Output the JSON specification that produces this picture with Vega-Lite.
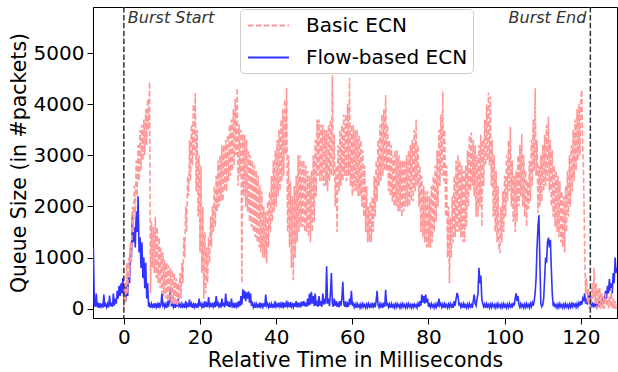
{
  "$schema": "https://vega.github.io/schema/vega-lite/v6.json",
  "width": 524,
  "height": 311,
  "autosize": {"type": "none"},
  "padding": {"left": 93, "top": 7, "right": 1, "bottom": 54},
  "background": "white",
  "config": {
    "view": {"stroke": "black", "strokeWidth": 1},
    "font": "DejaVu Sans",
    "axis": {
      "labelFont": "DejaVu Sans", "titleFont": "DejaVu Sans",
      "labelFontSize": 20, "titleFontSize": 20.5, "titleFontWeight": "normal",
      "labelColor": "black", "titleColor": "black", "tickColor": "black", "domainColor": "black",
      "tickSize": 6, "grid": false, "labelPadding": 3, "domainWidth": 1, "tickWidth": 1
    },
    "legend": {
      "orient": "none", "legendX": 147, "legendY": 2, "title": null,
      "labelFont": "DejaVu Sans", "labelFontSize": 20, "labelColor": "black", "labelLimit": 400,
      "symbolType": "M-2,0L2,0", "symbolSize": 420, "symbolStrokeWidth": 2, "symbolOffset": 12,
      "labelOffset": 26, "padding": 5, "strokeColor": "#cccccc", "fillColor": "rgba(255,255,255,0.8)",
      "cornerRadius": 4, "rowPadding": 10
    }
  },
  "layer": [
    {
      "data": {"values": [
{"t":-8,"f":1200},{"t":-7.75,"f":100},{"t":-7.5,"f":40},{"t":-7.25,"f":300},{"t":-7,"f":30},{"t":-6.75,"f":90},{"t":-6.5,"f":20},{"t":-6.25,"f":110},{"t":-6,"f":40},{"t":-5.75,"f":80},{"t":-5.5,"f":20},{"t":-5.25,"f":280},{"t":-5,"f":40},{"t":-4.75,"f":90},{"t":-4.5,"f":30},{"t":-4.25,"f":100},{"t":-4,"f":30},{"t":-3.75,"f":260},{"t":-3.5,"f":50},{"t":-3.25,"f":120},{"t":-3,"f":40},{"t":-2.75,"f":300},{"t":-2.5,"f":60},{"t":-2.25,"f":200},{"t":-2,"f":100},{"t":-1.75,"f":350},{"t":-1.5,"f":200},{"t":-1.25,"f":450},{"t":-1,"f":250},{"t":-0.75,"f":500},{"t":-0.5,"f":300},{"t":-0.25,"f":600},
{"t":0,"b":0,"f":200},{"t":0.25,"b":500,"f":450},{"t":0.5,"b":100,"f":150},{"t":0.75,"b":900,"f":550},{"t":1,"b":300,"f":250},{"t":1.25,"b":1000,"f":700},{"t":1.5,"b":600,"f":500},{"t":1.75,"b":1300,"f":1200},{"t":2,"b":900,"f":1000},{"t":2.25,"b":2000,"f":1850},{"t":2.5,"b":1500,"f":1300},{"t":2.75,"b":2400,"f":1600},{"t":3,"b":1800,"f":1200},{"t":3.25,"b":2900,"f":1900},{"t":3.5,"b":2200,"f":1500},{"t":3.75,"b":3200,"f":2200},{"t":4,"b":2500,"f":1100},{"t":4.25,"b":3500,"f":1400},{"t":4.5,"b":2700,"f":800},{"t":4.75,"b":3600,"f":1300},{"t":5,"b":2900,"f":600},{"t":5.25,"b":3700,"f":1000},{"t":5.5,"b":3000,"f":400},{"t":5.75,"b":3900,"f":900},{"t":6,"b":3200,"f":200},{"t":6.25,"b":4100,"f":500},{"t":6.5,"b":3500,"f":40},{"t":6.75,"b":4440,"f":90},{"t":7,"b":300,"f":20},{"t":7.25,"b":1700,"f":100},{"t":7.5,"b":800,"f":40},{"t":7.75,"b":1600,"f":80},{"t":8,"b":700,"f":20},{"t":8.25,"b":1800,"f":110},{"t":8.5,"b":600,"f":30},{"t":8.75,"b":1600,"f":90},{"t":9,"b":500,"f":20},{"t":9.25,"b":1400,"f":120},{"t":9.5,"b":400,"f":40},{"t":9.75,"b":1200,"f":80},
{"t":10,"b":300,"f":300},{"t":10.25,"b":1100,"f":60},{"t":10.5,"b":250,"f":100},{"t":10.75,"b":950,"f":30},{"t":11,"b":200,"f":90},{"t":11.25,"b":900,"f":20},{"t":11.5,"b":150,"f":150},{"t":11.75,"b":850,"f":40},{"t":12,"b":150,"f":200},{"t":12.25,"b":800,"f":410},{"t":12.5,"b":100,"f":50},{"t":12.75,"b":750,"f":100},{"t":13,"b":100,"f":30},{"t":13.25,"b":700,"f":80},{"t":13.5,"b":80,"f":20},{"t":13.75,"b":600,"f":120},{"t":14,"b":50,"f":40},{"t":14.25,"b":500,"f":200},{"t":14.5,"b":100,"f":50},{"t":14.75,"b":700,"f":90},{"t":15,"b":200,"f":20},{"t":15.25,"b":900,"f":100},{"t":15.5,"b":500,"f":40},{"t":15.75,"b":1400,"f":80},{"t":16,"b":1000,"f":20},{"t":16.25,"b":2000,"f":150},{"t":16.5,"b":1500,"f":40},{"t":16.75,"b":2600,"f":90},{"t":17,"b":2200,"f":30},{"t":17.25,"b":3300,"f":180},{"t":17.5,"b":2500,"f":40},{"t":17.75,"b":3600,"f":100},{"t":18,"b":2800,"f":20},{"t":18.25,"b":4000,"f":90},{"t":18.5,"b":3000,"f":30},{"t":18.75,"b":4220,"f":110},{"t":19,"b":2300,"f":40},{"t":19.25,"b":3500,"f":80},{"t":19.5,"b":1800,"f":20},{"t":19.75,"b":3000,"f":200},
{"t":20,"b":1100,"f":50},{"t":20.25,"b":2800,"f":100},{"t":20.5,"b":700,"f":30},{"t":20.75,"b":2000,"f":90},{"t":21,"b":200,"f":20},{"t":21.25,"b":1500,"f":150},{"t":21.5,"b":300,"f":40},{"t":21.75,"b":1200,"f":100},{"t":22,"b":500,"f":30},{"t":22.25,"b":1400,"f":230},{"t":22.5,"b":900,"f":50},{"t":22.75,"b":1800,"f":90},{"t":23,"b":1200,"f":30},{"t":23.25,"b":2000,"f":120},{"t":23.5,"b":1500,"f":40},{"t":23.75,"b":2400,"f":100},{"t":24,"b":1600,"f":30},{"t":24.25,"b":2600,"f":250},{"t":24.5,"b":1900,"f":50},{"t":24.75,"b":2900,"f":110},{"t":25,"b":2000,"f":40},{"t":25.25,"b":3000,"f":90},{"t":25.5,"b":2100,"f":20},{"t":25.75,"b":3200,"f":200},{"t":26,"b":2100,"f":50},{"t":26.25,"b":3200,"f":120},{"t":26.5,"b":2300,"f":30},{"t":26.75,"b":3300,"f":300},{"t":27,"b":2300,"f":60},{"t":27.25,"b":3400,"f":150},{"t":27.5,"b":2500,"f":40},{"t":27.75,"b":3600,"f":100},{"t":28,"b":2600,"f":30},{"t":28.25,"b":3700,"f":200},{"t":28.5,"b":2700,"f":50},{"t":28.75,"b":3900,"f":90},{"t":29,"b":2800,"f":20},{"t":29.25,"b":4100,"f":120},{"t":29.5,"b":3000,"f":40},{"t":29.75,"b":4320,"f":100},
{"t":30,"b":2400,"f":30},{"t":30.25,"b":3600,"f":150},{"t":30.5,"b":2600,"f":50},{"t":30.75,"b":3500,"f":250},{"t":31,"b":500,"f":80},{"t":31.25,"b":3430,"f":380},{"t":31.5,"b":2200,"f":200},{"t":31.75,"b":3400,"f":350},{"t":32,"b":2000,"f":150},{"t":32.25,"b":3300,"f":320},{"t":32.5,"b":1900,"f":200},{"t":32.75,"b":3100,"f":340},{"t":33,"b":1700,"f":120},{"t":33.25,"b":3000,"f":300},{"t":33.5,"b":1600,"f":60},{"t":33.75,"b":2900,"f":110},{"t":34,"b":1500,"f":30},{"t":34.25,"b":2800,"f":90},{"t":34.5,"b":1400,"f":20},{"t":34.75,"b":2700,"f":100},{"t":35,"b":1300,"f":40},{"t":35.25,"b":2600,"f":80},{"t":35.5,"b":1200,"f":20},{"t":35.75,"b":2400,"f":120},{"t":36,"b":1100,"f":40},{"t":36.25,"b":2300,"f":90},{"t":36.5,"b":1000,"f":30},{"t":36.75,"b":2000,"f":110},{"t":37,"b":1000,"f":40},{"t":37.25,"b":1900,"f":280},{"t":37.5,"b":890,"f":60},{"t":37.75,"b":2100,"f":100},{"t":38,"b":1200,"f":30},{"t":38.25,"b":2300,"f":90},{"t":38.5,"b":1500,"f":20},{"t":38.75,"b":2600,"f":100},{"t":39,"b":1700,"f":40},{"t":39.25,"b":2900,"f":80},{"t":39.5,"b":1900,"f":20},{"t":39.75,"b":3100,"f":150},
{"t":40,"b":2000,"f":40},{"t":40.25,"b":3300,"f":90},{"t":40.5,"b":2200,"f":30},{"t":40.75,"b":3500,"f":120},{"t":41,"b":2300,"f":40},{"t":41.25,"b":3700,"f":100},{"t":41.5,"b":2500,"f":20},{"t":41.75,"b":3900,"f":130},{"t":42,"b":2600,"f":40},{"t":42.25,"b":4100,"f":90},{"t":42.5,"b":3000,"f":30},{"t":42.75,"b":4320,"f":160},{"t":43,"b":1500,"f":50},{"t":43.25,"b":3000,"f":100},{"t":43.5,"b":1200,"f":30},{"t":43.75,"b":2500,"f":130},{"t":44,"b":800,"f":40},{"t":44.25,"b":2200,"f":90},{"t":44.5,"b":560,"f":30},{"t":44.75,"b":2400,"f":110},{"t":45,"b":1000,"f":40},{"t":45.25,"b":2600,"f":150},{"t":45.5,"b":1300,"f":30},{"t":45.75,"b":3000,"f":120},{"t":46,"b":1500,"f":50},{"t":46.25,"b":3000,"f":100},{"t":46.5,"b":1600,"f":30},{"t":46.75,"b":2900,"f":140},{"t":47,"b":1600,"f":60},{"t":47.25,"b":2900,"f":150},{"t":47.5,"b":1500,"f":50},{"t":47.75,"b":2800,"f":120},{"t":48,"b":1500,"f":40},{"t":48.25,"b":2700,"f":200},{"t":48.5,"b":1400,"f":60},{"t":48.75,"b":2600,"f":300},{"t":49,"b":1300,"f":80},{"t":49.25,"b":2700,"f":330},{"t":49.5,"b":1500,"f":100},{"t":49.75,"b":3000,"f":250},
{"t":50,"b":1700,"f":50},{"t":50.25,"b":3300,"f":300},{"t":50.5,"b":2200,"f":60},{"t":50.75,"b":3700,"f":120},{"t":51,"b":2600,"f":40},{"t":51.25,"b":3700,"f":250},{"t":51.5,"b":2500,"f":60},{"t":51.75,"b":3600,"f":150},{"t":52,"b":2500,"f":40},{"t":52.25,"b":3600,"f":300},{"t":52.5,"b":2400,"f":80},{"t":52.75,"b":3500,"f":200},{"t":53,"b":2400,"f":100},{"t":53.25,"b":3500,"f":830},{"t":53.5,"b":2300,"f":100},{"t":53.75,"b":3600,"f":200},{"t":54,"b":2500,"f":50},{"t":54.25,"b":3700,"f":300},{"t":54.5,"b":2600,"f":700},{"t":54.75,"b":4570,"f":100},{"t":55,"b":2600,"f":40},{"t":55.25,"b":3400,"f":200},{"t":55.5,"b":2000,"f":60},{"t":55.75,"b":2800,"f":150},{"t":56,"b":1500,"f":40},{"t":56.25,"b":3200,"f":100},{"t":56.5,"b":2300,"f":30},{"t":56.75,"b":3500,"f":150},{"t":57,"b":2400,"f":60},{"t":57.25,"b":3600,"f":200},{"t":57.5,"b":2500,"f":530},{"t":57.75,"b":3800,"f":100},{"t":58,"b":2600,"f":40},{"t":58.25,"b":3800,"f":150},{"t":58.5,"b":2500,"f":30},{"t":58.75,"b":4000,"f":100},{"t":59,"b":2600,"f":40},{"t":59.25,"b":4510,"f":200},{"t":59.5,"b":2400,"f":80},{"t":59.75,"b":3600,"f":350},
{"t":60,"b":2200,"f":60},{"t":60.25,"b":3600,"f":100},{"t":60.5,"b":2300,"f":30},{"t":60.75,"b":3500,"f":90},{"t":61,"b":2300,"f":20},{"t":61.25,"b":3500,"f":100},{"t":61.5,"b":2200,"f":40},{"t":61.75,"b":3400,"f":80},{"t":62,"b":2200,"f":20},{"t":62.25,"b":3300,"f":90},{"t":62.5,"b":2000,"f":30},{"t":62.75,"b":3100,"f":100},{"t":63,"b":1800,"f":40},{"t":63.25,"b":2800,"f":80},{"t":63.5,"b":1500,"f":20},{"t":63.75,"b":2400,"f":90},{"t":64,"b":1300,"f":30},{"t":64.25,"b":2000,"f":100},{"t":64.5,"b":1300,"f":40},{"t":64.75,"b":2100,"f":80},{"t":65,"b":1300,"f":20},{"t":65.25,"b":2200,"f":120},{"t":65.5,"b":1500,"f":40},{"t":65.75,"b":2600,"f":90},{"t":66,"b":1800,"f":30},{"t":66.25,"b":2900,"f":150},{"t":66.5,"b":2100,"f":350},{"t":66.75,"b":3300,"f":80},{"t":67,"b":2400,"f":30},{"t":67.25,"b":3600,"f":100},{"t":67.5,"b":2500,"f":40},{"t":67.75,"b":3800,"f":90},{"t":68,"b":2600,"f":20},{"t":68.25,"b":3900,"f":120},{"t":68.5,"b":2700,"f":40},{"t":68.75,"b":4180,"f":370},{"t":69,"b":2700,"f":80},{"t":69.25,"b":3600,"f":100},{"t":69.5,"b":2300,"f":30},{"t":69.75,"b":3300,"f":90},
{"t":70,"b":2200,"f":20},{"t":70.25,"b":3200,"f":100},{"t":70.5,"b":2100,"f":40},{"t":70.75,"b":3000,"f":80},{"t":71,"b":2000,"f":20},{"t":71.25,"b":3100,"f":90},{"t":71.5,"b":2000,"f":30},{"t":71.75,"b":3100,"f":100},{"t":72,"b":1900,"f":40},{"t":72.25,"b":3000,"f":80},{"t":72.5,"b":1900,"f":20},{"t":72.75,"b":2900,"f":90},{"t":73,"b":1800,"f":30},{"t":73.25,"b":2900,"f":100},{"t":73.5,"b":1900,"f":40},{"t":73.75,"b":2900,"f":80},{"t":74,"b":2000,"f":20},{"t":74.25,"b":3000,"f":90},{"t":74.5,"b":2000,"f":30},{"t":74.75,"b":3100,"f":100},{"t":75,"b":2000,"f":40},{"t":75.25,"b":3200,"f":80},{"t":75.5,"b":2100,"f":20},{"t":75.75,"b":3300,"f":100},{"t":76,"b":2100,"f":30},{"t":76.25,"b":3500,"f":90},{"t":76.5,"b":2300,"f":40},{"t":76.75,"b":3700,"f":80},{"t":77,"b":2400,"f":20},{"t":77.25,"b":3200,"f":100},{"t":77.5,"b":2000,"f":40},{"t":77.75,"b":2800,"f":150},{"t":78,"b":1500,"f":60},{"t":78.25,"b":2600,"f":280},{"t":78.5,"b":1400,"f":120},{"t":78.75,"b":2400,"f":250},{"t":79,"b":1300,"f":100},{"t":79.25,"b":2300,"f":280},{"t":79.5,"b":1200,"f":120},{"t":79.75,"b":2300,"f":200},
{"t":80,"b":1200,"f":40},{"t":80.25,"b":2200,"f":90},{"t":80.5,"b":1200,"f":30},{"t":80.75,"b":2400,"f":100},{"t":81,"b":1300,"f":40},{"t":81.25,"b":2600,"f":80},{"t":81.5,"b":1500,"f":20},{"t":81.75,"b":2800,"f":90},{"t":82,"b":1700,"f":30},{"t":82.25,"b":3100,"f":100},{"t":82.5,"b":2000,"f":40},{"t":82.75,"b":3500,"f":200},{"t":83,"b":2400,"f":60},{"t":83.25,"b":3800,"f":100},{"t":83.5,"b":2600,"f":30},{"t":83.75,"b":4250,"f":90},{"t":84,"b":2500,"f":20},{"t":84.25,"b":3500,"f":100},{"t":84.5,"b":1800,"f":40},{"t":84.75,"b":2800,"f":80},{"t":85,"b":1000,"f":20},{"t":85.25,"b":2000,"f":90},{"t":85.5,"b":500,"f":30},{"t":85.75,"b":1800,"f":100},{"t":86,"b":1000,"f":40},{"t":86.25,"b":2200,"f":80},{"t":86.5,"b":1300,"f":20},{"t":86.75,"b":2600,"f":150},{"t":87,"b":1400,"f":60},{"t":87.25,"b":2900,"f":200},{"t":87.5,"b":1500,"f":310},{"t":87.75,"b":3000,"f":250},{"t":88,"b":1500,"f":80},{"t":88.25,"b":2900,"f":100},{"t":88.5,"b":1400,"f":30},{"t":88.75,"b":2800,"f":90},{"t":89,"b":1300,"f":20},{"t":89.25,"b":2700,"f":100},{"t":89.5,"b":1300,"f":40},{"t":89.75,"b":2800,"f":80},
{"t":90,"b":1600,"f":20},{"t":90.25,"b":3100,"f":90},{"t":90.5,"b":2000,"f":30},{"t":90.75,"b":3400,"f":100},{"t":91,"b":2300,"f":40},{"t":91.25,"b":3450,"f":80},{"t":91.5,"b":2400,"f":20},{"t":91.75,"b":3300,"f":150},{"t":92,"b":2200,"f":280},{"t":92.25,"b":3200,"f":100},{"t":92.5,"b":1800,"f":60},{"t":92.75,"b":3000,"f":200},{"t":93,"b":1800,"f":300},{"t":93.25,"b":3200,"f":800},{"t":93.5,"b":2000,"f":500},{"t":93.75,"b":3400,"f":650},{"t":94,"b":1600,"f":200},{"t":94.25,"b":3300,"f":100},{"t":94.5,"b":2400,"f":40},{"t":94.75,"b":3700,"f":90},{"t":95,"b":2800,"f":20},{"t":95.25,"b":4000,"f":100},{"t":95.5,"b":2900,"f":40},{"t":95.75,"b":4230,"f":80},{"t":96,"b":2800,"f":20},{"t":96.25,"b":4150,"f":90},{"t":96.5,"b":2400,"f":30},{"t":96.75,"b":3300,"f":100},{"t":97,"b":1800,"f":40},{"t":97.25,"b":3000,"f":80},{"t":97.5,"b":1500,"f":20},{"t":97.75,"b":2700,"f":90},{"t":98,"b":1300,"f":30},{"t":98.25,"b":2400,"f":100},{"t":98.5,"b":1200,"f":40},{"t":98.75,"b":1090,"f":80},{"t":99,"b":2000,"f":20},{"t":99.25,"b":1300,"f":90},{"t":99.5,"b":2300,"f":30},{"t":99.75,"b":1500,"f":100},
{"t":100,"b":2600,"f":40},{"t":100.25,"b":1800,"f":80},{"t":100.5,"b":3000,"f":20},{"t":100.75,"b":2100,"f":90},{"t":101,"b":3300,"f":30},{"t":101.25,"b":2300,"f":100},{"t":101.5,"b":3560,"f":40},{"t":101.75,"b":2000,"f":80},{"t":102,"b":2900,"f":20},{"t":102.25,"b":1700,"f":120},{"t":102.5,"b":2600,"f":60},{"t":102.75,"b":1500,"f":200},{"t":103,"b":2700,"f":300},{"t":103.25,"b":1700,"f":150},{"t":103.5,"b":3000,"f":250},{"t":103.75,"b":2000,"f":80},{"t":104,"b":3200,"f":30},{"t":104.25,"b":2200,"f":100},{"t":104.5,"b":3420,"f":40},{"t":104.75,"b":2000,"f":80},{"t":105,"b":3000,"f":20},{"t":105.25,"b":1800,"f":90},{"t":105.5,"b":2700,"f":30},{"t":105.75,"b":1600,"f":100},{"t":106,"b":2500,"f":40},{"t":106.25,"b":1950,"f":80},{"t":106.5,"b":2900,"f":20},{"t":106.75,"b":2100,"f":100},{"t":107,"b":3300,"f":40},{"t":107.25,"b":2400,"f":120},{"t":107.5,"b":3700,"f":60},{"t":107.75,"b":2700,"f":150},{"t":108,"b":4310,"f":300},{"t":108.25,"b":2600,"f":600},{"t":108.5,"b":3300,"f":1200},{"t":108.75,"b":1870,"f":1600},{"t":109,"b":2800,"f":1830},{"t":109.25,"b":2000,"f":900},{"t":109.5,"b":3000,"f":100},{"t":109.75,"b":2100,"f":40},
{"t":110,"b":3200,"f":80},{"t":110.25,"b":2300,"f":200},{"t":110.5,"b":3400,"f":600},{"t":110.75,"b":2400,"f":1000},{"t":111,"b":3600,"f":900},{"t":111.25,"b":2500,"f":1300},{"t":111.5,"b":3760,"f":1390},{"t":111.75,"b":2300,"f":1200},{"t":112,"b":3300,"f":1350},{"t":112.25,"b":2000,"f":800},{"t":112.5,"b":3100,"f":300},{"t":112.75,"b":1800,"f":50},{"t":113,"b":2800,"f":100},{"t":113.25,"b":1600,"f":40},{"t":113.5,"b":2700,"f":80},{"t":113.75,"b":1500,"f":20},{"t":114,"b":2600,"f":90},{"t":114.25,"b":1400,"f":30},{"t":114.5,"b":2500,"f":100},{"t":114.75,"b":1300,"f":40},{"t":115,"b":2300,"f":80},{"t":115.25,"b":1200,"f":20},{"t":115.5,"b":2200,"f":90},{"t":115.75,"b":1100,"f":30},{"t":116,"b":2400,"f":100},{"t":116.25,"b":1500,"f":40},{"t":116.5,"b":2700,"f":80},{"t":116.75,"b":1800,"f":20},{"t":117,"b":3000,"f":90},{"t":117.25,"b":2000,"f":30},{"t":117.5,"b":3200,"f":100},{"t":117.75,"b":2300,"f":40},{"t":118,"b":3500,"f":120},{"t":118.25,"b":2500,"f":50},{"t":118.5,"b":3700,"f":90},{"t":118.75,"b":2700,"f":30},{"t":119,"b":3900,"f":100},{"t":119.25,"b":2900,"f":40},{"t":119.5,"b":4000,"f":120},{"t":119.75,"b":3000,"f":60},
{"t":120,"b":4100,"f":150},{"t":120.25,"b":4280,"f":80},{"t":120.5,"b":3200,"f":200},{"t":120.75,"b":2500,"f":150},{"t":121,"b":1200,"f":300},{"t":121.25,"b":300,"f":100},{"t":121.5,"b":600,"f":200},{"t":121.75,"b":100,"f":80},{"t":122,"b":400,"f":320},{"t":122.25,"b":0,"f":150},{"t":122.5,"b":300,"f":250},{"t":122.75,"b":100,"f":60},{"t":123,"b":500,"f":100},{"t":123.25,"b":200,"f":30},{"t":123.5,"b":800,"f":120},{"t":123.75,"b":100,"f":50},{"t":124,"b":500,"f":90},{"t":124.25,"b":0,"f":30},{"t":124.5,"b":400,"f":100},{"t":124.75,"b":50,"f":60},{"t":125,"b":400,"f":150},{"t":125.25,"b":0,"f":80},{"t":125.5,"b":300,"f":200},{"t":125.75,"b":0,"f":100},{"t":126,"b":250,"f":250},{"t":126.25,"b":0,"f":150},{"t":126.5,"b":300,"f":350},{"t":126.75,"b":50,"f":200},{"t":127,"b":200,"f":450},{"t":127.25,"b":0,"f":300},{"t":127.5,"b":250,"f":580},{"t":127.75,"b":50,"f":350},{"t":128,"b":400,"f":500},{"t":128.25,"b":0,"f":300},{"t":128.5,"b":200,"f":700},{"t":128.75,"b":0,"f":500},{"t":129,"b":150,"f":1000},{"t":129.25,"b":0,"f":700},{"t":129.5,"b":100,"f":800}
      ]},
      "transform": [
        {"fold": ["b", "f"], "as": ["k", "q"]},
        {"filter": "isValid(datum.q)"}
      ],
      "mark": {"type": "line", "strokeWidth": 1.6, "clip": true},
      "encoding": {
        "x": {"field": "t", "type": "quantitative", "scale": {"domain": [-8.1, 129.5], "nice": false, "zero": false},
              "axis": {"values": [0, 20, 40, 60, 80, 100, 120], "title": "Relative Time in Milliseconds", "titlePadding": 3}},
        "y": {"field": "q", "type": "quantitative", "scale": {"domain": [-180, 5900], "nice": false, "zero": false},
              "axis": {"values": [0, 1000, 2000, 3000, 4000, 5000], "format": "d", "title": "Queue Size (in #packets)", "titlePadding": 4}},
        "color": {"field": "k", "type": "nominal", "scale": {"domain": ["b", "f"], "range": ["#ff9999", "#3333ff"]},
                  "legend": {"labelExpr": "datum.value == 'b' ? 'Basic ECN' : 'Flow-based ECN'"}},
        "strokeDash": {"field": "k", "type": "nominal", "scale": {"domain": ["b", "f"], "range": [[5.5, 2.4], [1, 0]]},
                  "legend": {"labelExpr": "datum.value == 'b' ? 'Basic ECN' : 'Flow-based ECN'"}}
      }
    },
    {
      "data": {"values": [{"t": 0}, {"t": 122.5}]},
      "mark": {"type": "rule", "color": "#333333", "strokeWidth": 1.5, "strokeDash": [5.5, 2.4]},
      "encoding": {"x": {"field": "t", "type": "quantitative"}}
    },
    {
      "data": {"values": [{"t": 0, "label": "Burst Start"}]},
      "mark": {"type": "text", "align": "left", "baseline": "middle", "dx": 4, "font": "DejaVu Sans", "fontStyle": "italic", "fontSize": 16, "color": "#333333"},
      "encoding": {"x": {"field": "t", "type": "quantitative"}, "y": {"datum": 5690}, "text": {"field": "label"}}
    },
    {
      "data": {"values": [{"t": 122.5, "label": "Burst End"}]},
      "mark": {"type": "text", "align": "right", "baseline": "middle", "dx": -4, "font": "DejaVu Sans", "fontStyle": "italic", "fontSize": 16, "color": "#333333"},
      "encoding": {"x": {"field": "t", "type": "quantitative"}, "y": {"datum": 5690}, "text": {"field": "label"}}
    }
  ]
}
